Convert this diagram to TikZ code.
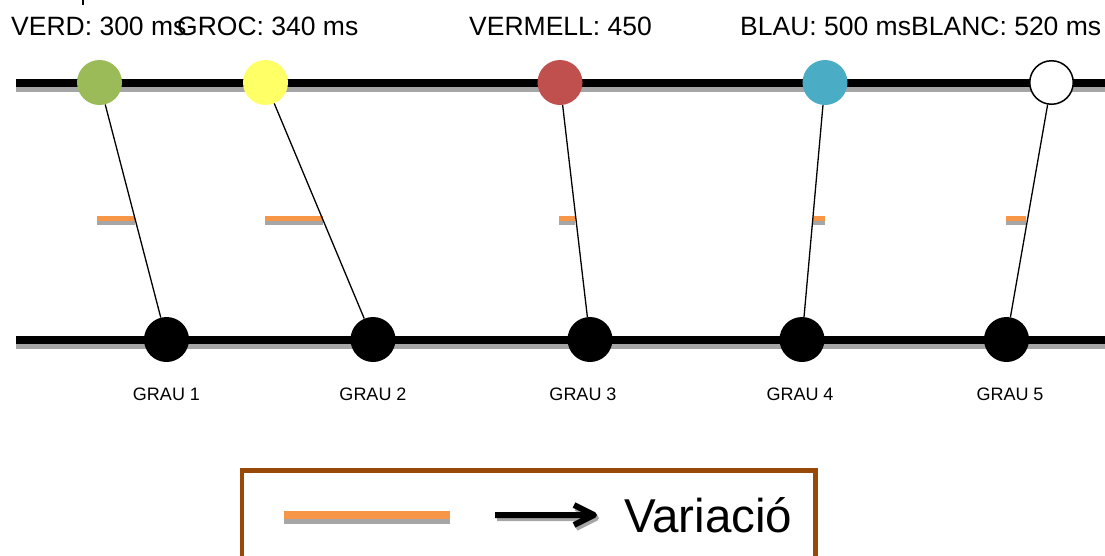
\documentclass[tikz,border=0pt]{standalone}
\usepackage{fontspec}
\setmainfont{Liberation Sans}
\definecolor{railgrey}{HTML}{A6A6A6}
\definecolor{varorange}{HTML}{F79646}
\definecolor{boxbrown}{HTML}{984807}
\definecolor{cgreen}{HTML}{9BBB59}
\definecolor{cyellow}{HTML}{FFFF66}
\definecolor{cred}{HTML}{C0504D}
\definecolor{cblue}{HTML}{4BACC6}
\begin{document}
\begin{tikzpicture}[x=1pt,y=-1pt,
  rail/.style={line width=8pt,black},
  railshadow/.style={line width=8pt,railgrey},
  varbar/.style={line width=5pt,varorange},
  varshadow/.style={line width=5pt,railgrey},
  colourdot/.style={circle,minimum size=45pt,inner sep=0pt},
  gradedot/.style={circle,minimum size=45pt,inner sep=0pt,fill=black},
  link/.style={line width=1.3pt,black},
  legendarrow/.style={line width=6pt,line join=round},
  toplabel/.style={anchor=base west,inner sep=0pt,font=\fontsize{26.5}{30}\selectfont},
  gradelabel/.style={anchor=base,inner sep=0pt,font=\fontsize{18}{21}\selectfont}]
\useasboundingbox (0,0) rectangle (1105,555);
\clip (0,0) rectangle (1105,555);

% small stroke at the top edge
\draw[line width=2pt] (83,0) -- (83,5);

% timing labels
\node[toplabel] (lverd) at (11,35) {VERD: 300 ms};
\node[toplabel] (lgroc) at (177,35) {GROC: 340 ms};
\node[toplabel] (lverm) at (469,35) {VERMELL: 450};
\node[toplabel] (lblau) at (740,35) {BLAU: 500 ms};
\node[toplabel] (lblanc) at (911,35) {BLANC: 520 ms};

% rails with their shadows
\draw[railshadow] (16,88) -- (1105,88);
\draw[rail] (16,83) -- (1105,83);
\draw[railshadow] (16,345) -- (1105,345);
\draw[rail] (16,340) -- (1105,340);

% variation marks
\foreach \a/\b in {97/135,265/323,559/575,813/825,1006/1026}{
  \draw[varshadow] (\a,222.5) -- (\b,222.5);
  \draw[varbar] (\a,218.5) -- (\b,218.5);
}

% colour stimuli
\node[colourdot,fill=cgreen] (t1) at (99.5,82.5) {};
\node[colourdot,fill=cyellow] (t2) at (265.5,82.5) {};
\node[colourdot,fill=cred] (t3) at (560,82.5) {};
\node[colourdot,fill=cblue] (t4) at (825,82.5) {};
\node[colourdot,fill=white,draw=black,line width=1.5pt,minimum size=43.5pt] (t5) at (1051.5,82.5) {};

% grade points
\node[gradedot] (b1) at (166.5,339.5) {};
\node[gradedot] (b2) at (373,339.5) {};
\node[gradedot] (b3) at (590,339.5) {};
\node[gradedot] (b4) at (802,339.5) {};
\node[gradedot] (b5) at (1006.5,339.5) {};

% links between stimuli and grades
\foreach \i in {1,...,5}{
  \draw[link] (t\i) -- (b\i);
}

% grade labels
\node[gradelabel] (g1) at (166.5,400) {GRAU 1};
\node[gradelabel] (g2) at (373,400) {GRAU 2};
\node[gradelabel] (g3) at (583,400) {GRAU 3};
\node[gradelabel] (g4) at (800,400) {GRAU 4};
\node[gradelabel] (g5) at (1010,400) {GRAU 5};

% legend
\draw[boxbrown,line width=4.5pt] (242,580) -- (242,470.5) -- (815.5,470.5) -- (815.5,580);
\draw[line width=8pt,railgrey] (284,520) -- (450,520);
\draw[line width=8pt,varorange] (284,515) -- (450,515);
\coordinate (arrs) at (495,515);
\coordinate (arre) at (594,515);
% arrow with shadow: shaft plus open chevron head
\draw[legendarrow,railgrey] ([shift={(2,3)}]arrs) -- ([shift={(2,3)}]arre)
  ([shift={(-18,-7)}]arre) -- ([shift={(2,3)}]arre) -- ([shift={(-18,13)}]arre);
\draw[legendarrow,black] (arrs) -- (arre)
  ([shift={(-20,-10)}]arre) -- (arre) -- ([shift={(-20,10)}]arre);
\node[anchor=base west,inner sep=0pt,font=\fontsize{47.5}{54}\selectfont] (vartext) at (624,532) {Variació};
\end{tikzpicture}
\end{document}
